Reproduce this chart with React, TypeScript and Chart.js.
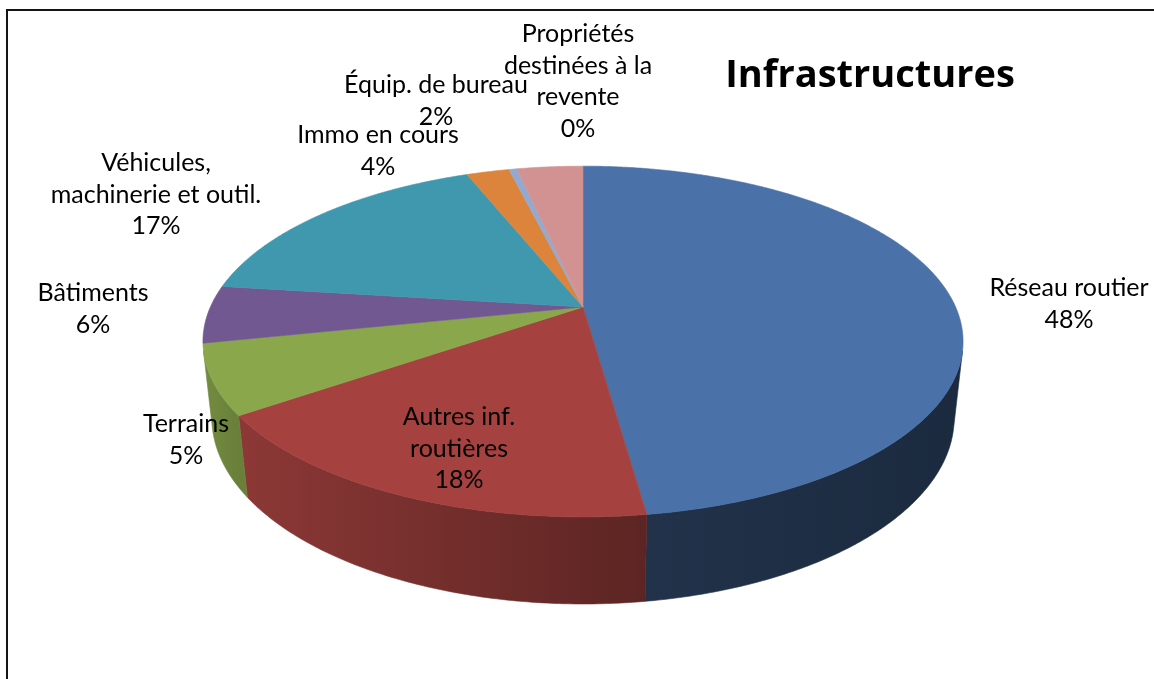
import React, { useEffect, useRef } from "react";
import { Chart, registerables } from "chart.js";

Chart.register(...registerables);

// ---- data ----
const categories = [
  "Réseau routier",
  "Autres inf. routières",
  "Terrains",
  "Bâtiments",
  "Véhicules, machinerie et outil.",
  "Immo en cours",
  "Équip. de bureau",
  "Propriétés destinées à la revente",
];
const sliceValues = [47.8, 17.5, 6.4, 5.3, 17.0, 2.2, 0.4, 3.4];
const percentLabels = ["48%", "18%", "5%", "6%", "17%", "4%", "2%", "0%"];
const labelLines = [
  ["Réseau routier"],
  ["Autres inf.", "routières"],
  ["Terrains"],
  ["Bâtiments"],
  ["Véhicules,", "machinerie et outil."],
  ["Immo en cours"],
  ["Équip. de bureau"],
  ["Propriétés", "destinées à la", "revente"],
];
const chartTitle = "Infrastructures";

// ---- styles ----
const sliceColors = [
  "#4A71A8",
  "#A5423F",
  "#8AA74C",
  "#715891",
  "#4098AF",
  "#DC843B",
  "#94A9D0",
  "#D19291",
];
// wall shading multipliers [left end, right end] of each slice's visible wall
const wallShade = [
  [0.44, 0.37],
  [0.85, 0.56],
  [0.84, 0.76],
  [0.8, 0.75],
  [0.8, 0.75],
  [0.8, 0.75],
  [0.8, 0.75],
  [0.8, 0.75],
];
// label anchor (centre x, first baseline) relative to pie centre, px
const labelOffsets = [
  [486, -11],
  [-124, 118],
  [-397, 125],
  [-490, -6],
  [-427, -136],
  [-205, -164],
  [-147, -214],
  [-5, -265],
];
const LABEL_FONT = "25px Lato";
const TITLE_FONT = "bold 38px 'Open Sans'";
const LINE_H = 31.7;
const TILT = (26.9 * Math.PI) / 180;
const CAM = 4.53; // camera distance in pie radii
const ZOOM = 6.834; // focal length in units of the arc outer radius
const DEPTH = 0.231; // pie thickness in radii

function hexToRgb(h: string) {
  const n = parseInt(h.slice(1), 16);
  return [(n >> 16) & 255, (n >> 8) & 255, n & 255];
}
function shade(h: string, m: number) {
  const [r, g, b] = hexToRgb(h);
  return `rgb(${Math.round(r * m)},${Math.round(g * m)},${Math.round(b * m)})`;
}

const pie3d = {
  id: "pie3d",
  beforeDraw(chart: any) {
    const ctx = chart.ctx;
    ctx.save();
    ctx.fillStyle = "#ffffff";
    ctx.fillRect(0, 0, chart.width, chart.height);
    ctx.fillStyle = "#151515";
    ctx.fillRect(6, 9, 2, chart.height - 9);
    ctx.fillRect(6, 9, chart.width - 6, 2);
    ctx.restore();
  },
  beforeDatasetsDraw(chart: any) {
    const ctx = chart.ctx;
    const meta = chart.getDatasetMeta(0);
    const arcs = meta.data;
    if (!arcs.length) return false;
    const p0 = arcs[0].getProps(["x", "y", "outerRadius"], true);
    const x0 = p0.x, y0 = p0.y;
    const F = p0.outerRadius * ZOOM;
    const s = Math.sin(TILT), c = Math.cos(TILT);
    const proj = (th: number, h: number) => {
      const u = Math.sin(th), v = Math.cos(th);
      const up = v * s - h * c;
      const dz = CAM + v * c + h * s;
      return [x0 + (F * u) / dz, y0 - (F * up) / dz];
    };
    const thMin = Math.acos(-1 / (CAM * c));
    const thMax = 2 * Math.PI - thMin;
    const step = Math.PI / 360;
    ctx.save();
    // walls
    arcs.forEach((arc: any, i: number) => {
      const p = arc.getProps(["startAngle", "endAngle"], true);
      const a = Math.max(p.startAngle + Math.PI / 2, thMin);
      const b = Math.min(p.endAngle + Math.PI / 2, thMax);
      if (a >= b) return;
      const col = sliceColors[i % sliceColors.length];
      const xa = proj(a, 0)[0];
      const xb = proj(b, 0)[0];
      const xl = Math.min(xa, xb), xr = Math.max(xa, xb);
      const [ml, mr] = wallShade[i % wallShade.length];
      const g = ctx.createLinearGradient(xl, 0, xr + 0.01, 0);
      g.addColorStop(0, shade(col, ml));
      g.addColorStop(1, shade(col, mr));
      ctx.beginPath();
      let first = true;
      for (let t = a; t < b; t += step) {
        const q = proj(t, 0);
        if (first) { ctx.moveTo(q[0], q[1]); first = false; } else ctx.lineTo(q[0], q[1]);
      }
      let q = proj(b, 0);
      ctx.lineTo(q[0], q[1]);
      for (let t = b; t > a; t -= step) {
        q = proj(t, DEPTH);
        ctx.lineTo(q[0], q[1]);
      }
      q = proj(a, DEPTH);
      ctx.lineTo(q[0], q[1]);
      ctx.closePath();
      ctx.fillStyle = g;
      ctx.fill();
      ctx.strokeStyle = g;
      ctx.lineWidth = 0.6;
      ctx.stroke();
    });
    // top faces
    arcs.forEach((arc: any, i: number) => {
      const p = arc.getProps(["startAngle", "endAngle"], true);
      const a = p.startAngle + Math.PI / 2;
      const b = p.endAngle + Math.PI / 2;
      const col = sliceColors[i % sliceColors.length];
      ctx.beginPath();
      ctx.moveTo(x0, y0);
      for (let t = a; t < b; t += step) {
        const q = proj(t, 0);
        ctx.lineTo(q[0], q[1]);
      }
      const q = proj(b, 0);
      ctx.lineTo(q[0], q[1]);
      ctx.closePath();
      ctx.fillStyle = col;
      ctx.fill();
      ctx.strokeStyle = col;
      ctx.lineWidth = 0.6;
      ctx.stroke();
    });
    ctx.restore();
    return false;
  },
  afterDraw(chart: any) {
    const ctx = chart.ctx;
    const arcs = chart.getDatasetMeta(0).data;
    if (!arcs.length) return;
    const p0 = arcs[0].getProps(["x", "y"], true);
    ctx.save();
    ctx.fillStyle = "#000";
    ctx.textAlign = "center";
    ctx.textBaseline = "alphabetic";
    ctx.font = LABEL_FONT;
    labelLines.forEach((lines, i) => {
      const [dx, dy] = labelOffsets[i];
      const all = [...lines, percentLabels[i]];
      all.forEach((ln, k) => {
        ctx.fillText(ln, p0.x + dx, p0.y + dy + k * LINE_H);
      });
    });
    ctx.font = TITLE_FONT;
    ctx.fillText(chartTitle, p0.x + 287, p0.y - 220);
    ctx.restore();
  },
};

export default function App() {
  const ref = useRef<HTMLCanvasElement | null>(null);
  useEffect(() => {
    if (!ref.current) return;
    const chart = new Chart(ref.current, {
      type: "pie",
      data: {
        labels: categories,
        datasets: [
          {
            data: sliceValues,
            backgroundColor: sliceColors,
            borderWidth: 0,
            hoverBorderWidth: 0,
            offset: 0,
            hoverOffset: 0,
          } as any,
        ],
      },
      options: {
        responsive: false,
        animation: false,
        events: [],
        layout: { padding: { left: 100, right: 88, top: 60, bottom: 125 } },
        plugins: {
          legend: { display: false },
          tooltip: { enabled: false },
          title: { display: false },
        },
      } as any,
      plugins: [pie3d],
    });
    return () => chart.destroy();
  }, []);
  return (
    <div style={{ position: "absolute", left: 0, top: 0, width: 1154, height: 679 }}>
      <canvas ref={ref} width={1154} height={679} style={{ display: "block" }} />
    </div>
  );
}
